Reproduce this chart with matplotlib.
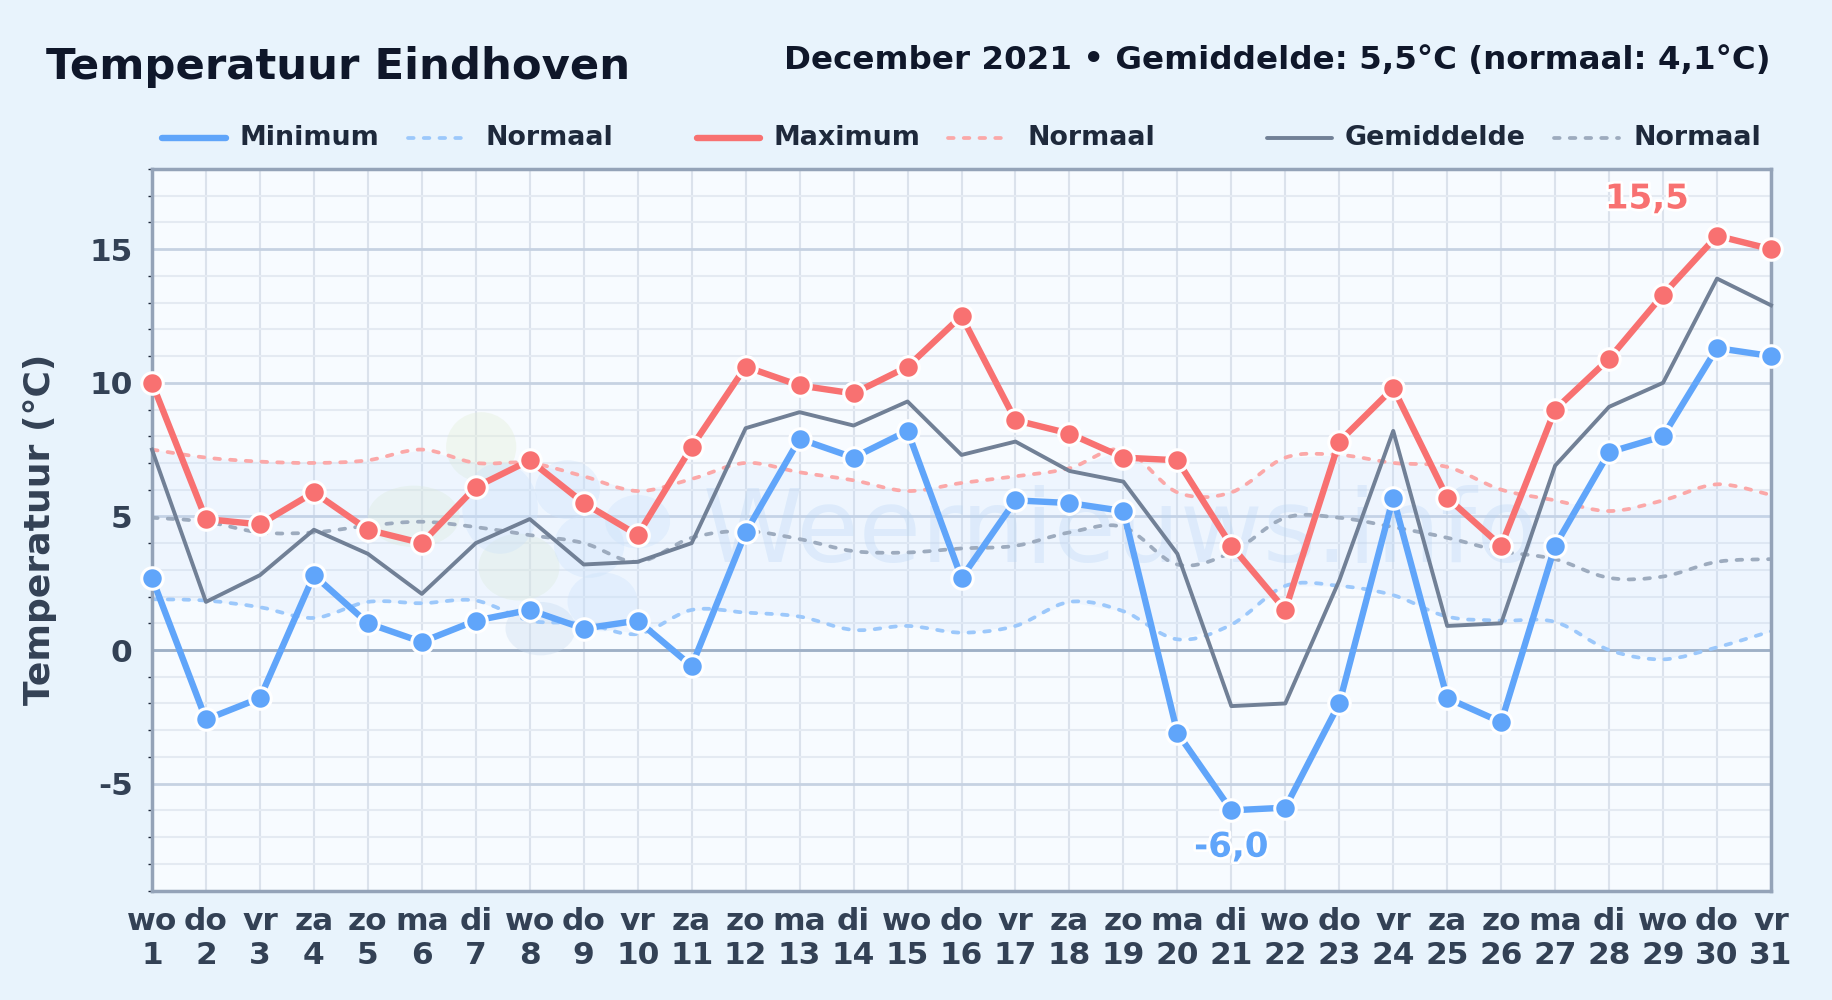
import matplotlib
matplotlib.use('Agg')
import matplotlib.pyplot as plt
from matplotlib.lines import Line2D
from matplotlib.patches import Ellipse, PathPatch
from matplotlib.path import Path
import matplotlib.patheffects as pe
import numpy as np

days = list(range(1, 32))
weekdays = ['wo', 'do', 'vr', 'za', 'zo', 'ma', 'di'] * 4 + ['wo', 'do', 'vr']

minimum = [2.7, -2.6, -1.8, 2.8, 1.0, 0.3, 1.1, 1.5, 0.8, 1.1, -0.6, 4.4, 7.9, 7.2, 8.2, 2.7,
           5.6, 5.5, 5.2, -3.1, -6.0, -5.9, -2.0, 5.7, -1.8, -2.7, 3.9, 7.4, 8.0, 11.3, 11.0]
maximum = [10.0, 4.9, 4.7, 5.9, 4.5, 4.0, 6.1, 7.1, 5.5, 4.3, 7.6, 10.6, 9.9, 9.6, 10.6, 12.5,
           8.6, 8.1, 7.2, 7.1, 3.9, 1.5, 7.8, 9.8, 5.7, 3.9, 9.0, 10.9, 13.3, 15.5, 15.0]
average = [7.5, 1.8, 2.8, 4.5, 3.6, 2.1, 4.0, 4.9, 3.2, 3.3, 4.0, 8.3, 8.9, 8.4, 9.3, 7.3,
           7.8, 6.7, 6.3, 3.6, -2.1, -2.0, 2.6, 8.2, 0.9, 1.0, 6.9, 9.1, 10.0, 13.9, 12.9]
normal_min = [1.9, 1.85, 1.6, 1.2, 1.8, 1.75, 1.85, 1.1, 1.0, 0.6, 1.5, 1.4, 1.25, 0.75, 0.9, 0.65,
              0.9, 1.8, 1.45, 0.4, 0.95, 2.4, 2.4, 2.05, 1.25, 1.1, 1.05, 0.0, -0.35, 0.1, 0.7]
normal_max = [7.5, 7.2, 7.05, 7.0, 7.1, 7.5, 7.0, 7.0, 6.5, 5.95, 6.4, 7.0, 6.65, 6.35, 5.95, 6.25,
              6.5, 6.8, 7.5, 5.9, 5.9, 7.2, 7.3, 7.0, 6.85, 6.0, 5.6, 5.2, 5.6, 6.2, 5.8]
normal_avg = [4.95, 4.8, 4.4, 4.4, 4.65, 4.8, 4.6, 4.3, 4.0, 3.3, 4.2, 4.45, 4.15, 3.7, 3.65, 3.8,
              3.9, 4.4, 4.6, 3.2, 3.65, 4.95, 4.95, 4.6, 4.2, 3.7, 3.4, 2.7, 2.75, 3.3, 3.4]

BLUE = '#60a5fa'
RED = '#f87171'
GREY = '#718096'
DASH = (0, (1.5, 2.7))
W, H = 1832, 1000


def smooth_path(xs, ys):
    # catmull-rom through the values, written as bezier segments
    pts = np.column_stack([xs, ys]).astype(float)
    verts = [pts[0]]
    codes = [Path.MOVETO]
    for i in range(len(pts) - 1):
        p0 = pts[max(i - 1, 0)]
        p1 = pts[i]
        p2 = pts[i + 1]
        p3 = pts[min(i + 2, len(pts) - 1)]
        verts += [p1 + (p2 - p0) / 6, p2 - (p3 - p1) / 6, p2]
        codes += [Path.CURVE4] * 3
    return Path(verts, codes)


def px(x, y):
    return x / W, 1 - y / H


fig = plt.figure(figsize=(W / 100, H / 100), dpi=100, facecolor='#e8f3fc')
ax = fig.add_axes([152 / W, 1 - 890.5 / H, (1771 - 152) / W, (890.5 - 169) / H], facecolor='#f7fbff')

ax.set_xlim(1, 31)
ax.set_ylim(-9, 18)

# grid
ax.set_xticks(days)
ax.set_xticklabels([f'{d}\n{n}' for d, n in zip(weekdays, days)], fontsize=22.5, fontweight='bold',
                   color='#334155', linespacing=1.2)
ax.set_yticks([-5, 0, 5, 10, 15])
ax.set_yticklabels(['-5', '0', '5', '10', '15'], fontsize=22.5, fontweight='bold', color='#334155')
ax.set_yticks([v for v in range(-9, 19) if v % 5 != 0], minor=True)
ax.tick_params(axis='both', which='major', length=0)
ax.tick_params(axis='x', pad=12)
ax.tick_params(axis='y', pad=14)
ax.tick_params(axis='y', which='minor', length=3, width=1, color='#1e293b')
ax.grid(True, axis='x', color='#dbe2ec', linewidth=1.5)
ax.grid(True, axis='y', which='major', color='#c6d2e2', linewidth=2)
ax.grid(True, axis='y', which='minor', color='#e4eaf2', linewidth=1.5)
ax.set_axisbelow(True)
ax.axhline(0, color='#9fb0c6', linewidth=2, zorder=1)
for s in ax.spines.values():
    s.set_color('#94a3b8')
    s.set_linewidth(2.5)

ax.set_ylabel('Temperatuur (°C)', fontsize=26, fontweight='bold', color='#334155')
ax.yaxis.set_label_coords((57 - 152) / (1771 - 152), 0.5)

# watermark
blobs = [(7.1, 7.6, 1.3, 2.6, '#e2edd4'), (5.85, 5.0, 1.7, 2.3, '#e2edd4'), (7.8, 3.1, 1.5, 2.5, '#e2edd4'),
         (7.45, 5.3, 1.4, 3.4, '#cfe3fa'), (8.7, 6.0, 1.2, 2.2, '#cfe3fa'), (10.0, 4.8, 1.2, 2.0, '#cfe3fa'),
         (9.1, 3.9, 1.3, 2.4, '#cfe3fa'), (9.35, 1.8, 1.3, 2.2, '#cfe3fa'), (8.2, 0.8, 1.3, 2.0, '#c9dbee')]
for bx, by, bw, bh, bc in blobs:
    ax.add_patch(Ellipse((bx, by), bw, bh, facecolor=bc, edgecolor='none', alpha=0.35, zorder=1.2))
ax.text(11.2, 3.28, 'Weernieuws.info', fontsize=73, color='#b6d2f2', alpha=0.3, ha='left', va='baseline', zorder=1.2)

# band between the two normals
ax.fill_between(days, normal_min, normal_max, color='#bfdbfe', alpha=0.16, linewidth=0, zorder=1.3)

for vals, col in [(normal_min, '#9cc8fb'), (normal_max, '#fba8a8'), (normal_avg, '#9dabbe')]:
    ax.add_patch(PathPatch(smooth_path(days, vals), facecolor='none', edgecolor=col, linewidth=2.7,
                           linestyle=DASH, capstyle='round', zorder=2))

ax.plot(days, average, color=GREY, linewidth=2.8, zorder=3, clip_on=False)
for vals, col, z in [(minimum, BLUE, 4), (maximum, RED, 5)]:
    ax.plot(days, vals, color=col, linewidth=4.6, marker='o', markersize=15.5, markerfacecolor=col,
            markeredgecolor='white', markeredgewidth=2.2, zorder=z, clip_on=False)

halo = [pe.withStroke(linewidth=4, foreground='white')]
ax.text(28.7, 16.88, '15,5', fontsize=24.5, fontweight='bold', color=RED, ha='center', va='center',
        path_effects=halo, zorder=6)
ax.text(21, -7.38, '-6,0', fontsize=24.5, fontweight='bold', color=BLUE, ha='center', va='center',
        path_effects=halo, zorder=6)

# header
fig.text(*px(46, 67), 'Temperatuur Eindhoven', fontsize=31.2, fontweight='bold', color='#0f172a', va='center')
fig.text(*px(1771, 60), 'December 2021 • Gemiddelde: 5,5°C (normaal: 4,1°C)', fontsize=23.4, fontweight='bold',
         color='#0f172a', va='center', ha='right')

# legend row, spaced by hand because the groups are uneven
legend_entries = [
    ('Minimum', BLUE, 4.6, '-', 162, 226, 240),
    ('Normaal', '#9cc8fb', 2.7, DASH, 408, 463, 486),
    ('Maximum', RED, 4.6, '-', 697, 760, 773),
    ('Normaal', '#fba8a8', 2.7, DASH, 948, 1005, 1027),
    ('Gemiddelde', GREY, 2.8, '-', 1267, 1332, 1345),
    ('Normaal', '#9dabbe', 2.7, DASH, 1554, 1619, 1633),
]
for label, col, lw, ls, x0, x1, tx in legend_entries:
    xa, ya = px(x0, 138)
    xb, _ = px(x1, 138)
    fig.add_artist(Line2D([xa, xb], [ya, ya], transform=fig.transFigure, color=col, linewidth=lw,
                          linestyle=ls, dash_capstyle='round', solid_capstyle='round'))
    fig.text(xa + (tx - x0) / W, ya, label, fontsize=19.4, fontweight='bold', color='#1e293b', va='center')

fig.savefig('out.png', dpi=100, facecolor=fig.get_facecolor())
